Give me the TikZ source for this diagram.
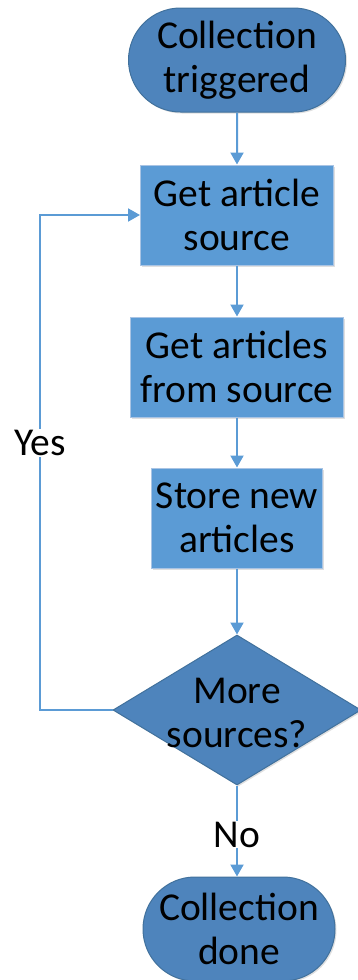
\documentclass[tikz,border=0pt]{standalone}
\usepackage{fontspec}
\setmainfont{Carlito}
\usetikzlibrary{arrows.meta, shapes.geometric, shapes.misc, shadows}
\definecolor{termblue}{HTML}{4E84BC}
\definecolor{termedge}{HTML}{41719C}
\definecolor{stepblue}{HTML}{5B9BD5}
\definecolor{stepedge}{HTML}{A9C4E4}
\definecolor{linkblue}{HTML}{5B9BD5}
\tikzset{
  chartfont/.style = {font=\fontsize{39.5}{44}\selectfont, text=black},
  terminal/.style  = {rounded rectangle, draw=termedge, line width=1pt,
                      fill=termblue, minimum height=104pt, inner sep=0pt,
                      align=center, chartfont,
                      drop shadow={shadow xshift=1.5pt, shadow yshift=-1.5pt,
                                   opacity=0.25, fill=gray}},
  stepbox/.style   = {rectangle, draw=stepedge, line width=1pt,
                      fill=stepblue, minimum height=100pt, inner sep=0pt,
                      align=center, chartfont,
                      drop shadow={shadow xshift=1.5pt, shadow yshift=-1.5pt,
                                   opacity=0.25, fill=gray}},
  decision/.style  = {diamond, draw=termedge, line width=1pt, fill=termblue,
                      minimum width=248pt, minimum height=150pt, inner sep=0pt,
                      drop shadow={shadow xshift=1.5pt, shadow yshift=-1.5pt,
                                   opacity=0.25, fill=gray}},
  dtext/.style     = {align=center, chartfont, inner sep=0pt, yshift=-3pt},
  flow/.style      = {-{Triangle[length=12pt, width=13pt]}, line width=2pt,
                      linkblue},
  branch/.style    = {fill=white, chartfont, inner sep=1pt},
}

\begin{document}
\begin{tikzpicture}[x=1pt, y=-1pt]
    \useasboundingbox (0,0) rectangle (358,980);
    % --- nodes --------------------------------------------------------
    \node[terminal, minimum width=217pt] (trig)   at (237,60)  {Collection\\triggered};
    \node[stepbox, minimum width=193pt]  (getsrc) at (237,215) {Get article\\source};
    \node[stepbox, minimum width=213pt]  (getart) at (237,367) {Get articles\\from source};
    \node[stepbox, minimum width=171pt]  (store)  at (237,518) {Store new\\articles};
    \node[decision, label={[dtext]center:More\\sources?}] (more) at (237,710) {};
    \node[terminal, minimum width=192pt] (done)   at (239,929) {Collection\\done};
    \coordinate (loop) at (40,710);
    % --- edges --------------------------------------------------------
    \draw[flow] (trig)   -- (getsrc);
    \draw[flow] (getsrc) -- (getart);
    \draw[flow] (getart) -- (store);
    \draw[flow] (store)  -- (more);
    \draw[flow] (more.west) -- (loop) |- node[branch, pos=0.27] {Yes} (getsrc.west);
    \draw[flow] (more.south) -- node[branch, pos=0.54] {No} (more.south |- done.north);
\end{tikzpicture}
\end{document}
